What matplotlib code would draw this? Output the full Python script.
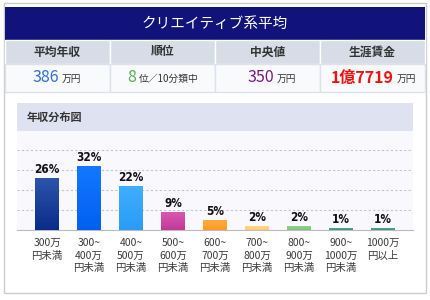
import matplotlib
matplotlib.use("Agg")
import matplotlib.pyplot as plt
from matplotlib.patches import Rectangle
from matplotlib.colors import LinearSegmentedColormap
import numpy as np

plt.rcParams['font.family'] = ['Noto Sans CJK JP', 'DejaVu Sans']

# data
title = "クリエイティブ系平均"
summary_heads = ["平均年収", "順位", "中央値", "生涯賃金"]
summary_nums = ["386", "8", "350", "1億7719"]
summary_units = ["万円", "位／10分類中", "万円", "万円"]
summary_colors = ["#2f6fd0", "#5aaa5a", "#7a1a7a", "#ee1111"]

categories = ["300万\n円未満", "300~\n400万\n円未満", "400~\n500万\n円未満",
              "500~\n600万\n円未満", "600~\n700万\n円未満", "700~\n800万\n円未満",
              "800~\n900万\n円未満", "900~\n1000万\n円未満", "1000万\n円以上"]
shares = [26, 32, 22, 9, 5, 2, 2, 1, 1]
bar_top = ["#2c55aa", "#1378ff", "#40adff", "#d858b0", "#ffac40",
           "#ffd888", "#90d090", "#55a48e", "#55a48e"]
bar_bottom = ["#0a2c8a", "#0060f0", "#2a9cf6", "#c03a98", "#fa9a22",
              "#ffcc6c", "#7cc47c", "#40907a", "#40907a"]

W, H = 430, 300
fig = plt.figure(figsize=(W / 100, H / 100), dpi=100)
fig.patch.set_facecolor("white")


def px(x, y):
    return x / W, 1 - y / H


def box(x0, y0, x1, y1, **kw):
    fig.patches.append(Rectangle((x0 / W, 1 - y1 / H), (x1 - x0) / W, (y1 - y0) / H,
                                 transform=fig.transFigure, **kw))


# outer frame
box(4, 3, 426, 293, facecolor="white", edgecolor="#cccccc", lw=1)
# title band
box(5, 7, 425, 40, facecolor="#12137a", edgecolor="none")
fig.text(*px(215, 24), title, color="white", fontsize=10.5, ha="center", va="center")

# summary header row + values row
col_edges = [5, 110, 215, 320, 425]
for i in range(4):
    box(col_edges[i], 40, col_edges[i + 1], 64, facecolor="#d6dde7", edgecolor="white", lw=1)
    box(col_edges[i], 64, col_edges[i + 1], 92, facecolor="#f9fafc", edgecolor="#dde2ea", lw=1)
    cx = (col_edges[i] + col_edges[i + 1]) / 2
    fig.text(*px(cx, 52), summary_heads[i], fontsize=8.5, fontweight="bold",
             color="#333333", ha="center", va="center")

num_right = [59, 136, 274, 394]
for i in range(4):
    fig.text(*px(num_right[i], 78), summary_nums[i], fontsize=11.5, color=summary_colors[i],
             fontweight="bold" if i == 3 else "normal", ha="right", va="center")
    fig.text(*px(num_right[i] + 3, 79), summary_units[i], fontsize=7,
             color="#333333", ha="left", va="center")

# chart panel header
box(17, 103, 413, 131, facecolor="#dfe2f1", edgecolor="none")
fig.text(*px(27, 117), "年収分布図", fontsize=8, fontweight="bold",
         color="#333333", ha="left", va="center")

# chart axes
ax = fig.add_axes([17 / W, 1 - 230 / H, 396 / W, 99 / H])
ax.set_zorder(5)
ax.set_facecolor("#f8f8fd")
x = np.arange(len(shares))
bars = ax.bar(x, shares, width=0.57, color=bar_bottom, zorder=3)
grad = np.linspace(0, 1, 64).reshape(-1, 1)
for b, c0, c1 in zip(bars, bar_bottom, bar_top):
    cmap = LinearSegmentedColormap.from_list("g", [c0, c1])
    bx, by = b.get_x(), b.get_y()
    im = ax.imshow(grad, cmap=cmap, aspect="auto", origin="lower", zorder=3.5,
                   extent=(bx, bx + b.get_width(), by, by + b.get_height()))
    im.set_clip_path(b)
for xi, v in zip(x, shares):
    ax.text(xi, v + 1.2, f"{v}%", ha="center", va="bottom", fontsize=8.5,
            fontweight="bold", fontfamily="DejaVu Sans", fontstretch="condensed",
            color="#111111", zorder=4)
ax.set_xlim(-0.714, len(shares) - 1 + 0.714)
ax.set_ylim(0, 49.5)
ax.set_yticks([10, 20, 30, 40])
ax.yaxis.grid(True, linestyle=(0, (2, 2)), color="#c4c4c8", lw=0.8)
ax.tick_params(axis="y", left=False, labelleft=False)
ax.tick_params(axis="x", length=0, pad=6)
ax.set_xticks(x)
ax.set_xticklabels(categories, fontsize=7.5, color="#3a3a3a", linespacing=1.3, va="top")
for s in ["top", "left", "right"]:
    ax.spines[s].set_visible(False)
ax.spines["bottom"].set_color("#bbbbbb")

fig.savefig("out.png", dpi=100)
